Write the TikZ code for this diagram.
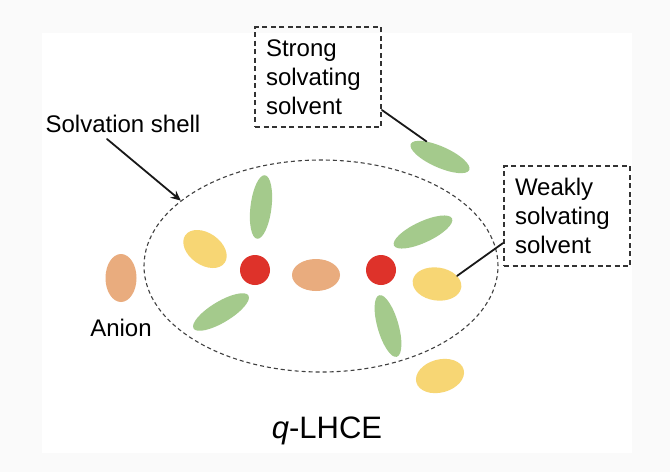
\documentclass[tikz,border=0pt]{standalone}
\usepackage{fontspec}
\setmainfont{Liberation Sans}
\usepackage{xcolor}
\usetikzlibrary{positioning,shapes.geometric,arrows.meta}

\definecolor{solvgreen}{RGB}{164,202,140}
\definecolor{solvyellow}{RGB}{247,214,116}
\definecolor{anionorange}{RGB}{233,172,126}
\definecolor{liionred}{RGB}{222,50,42}
\definecolor{pagegray}{RGB}{250,250,250}

\begin{document}
\begin{tikzpicture}[
    x=1pt, y=-1pt,
    molecule/.style = {
        ellipse,
        inner sep=0pt,
        draw=none
    },
    strongsolv/.style = {molecule, fill=solvgreen,   minimum width=64pt, minimum height=21pt},
    weaksolv/.style   = {molecule, fill=solvyellow,  minimum width=49pt, minimum height=33pt},
    anion/.style      = {molecule, fill=anionorange},
    cation/.style     = {circle, fill=liionred, minimum size=30pt, inner sep=0pt},
    labelbox/.style = {
        rectangle,
        draw=black!80,
        line width=1.8pt,
        dash pattern=on 5pt off 3.5pt,
        minimum width=126pt,
        minimum height=100pt,
        text width=104pt,
        inner xsep=11pt,
        align=left,
        font=\fontsize{24}{29}\selectfont
    },
    plaintext/.style = {inner sep=2pt, font=\fontsize{24}{29}\selectfont},
    pointer/.style = {line width=1.8pt, draw=black!90, line cap=round},
    arrow/.style   = {pointer, -{Stealth[length=10pt,width=9pt]}},
    shellline/.style = {ellipse, draw=black!75, line width=1.1pt, dash pattern=on 4pt off 3pt, inner sep=0pt}
]

% page
\fill[pagegray] (0,0) rectangle (670,472);
\fill[white] (42,33) rectangle (632,453);

% solvation shell
\node[shellline, minimum width=354pt, minimum height=212pt] (shell) at (321,266) {};

% ions
\node[cation] (liL) at (255,270) {};
\node[cation] (liR) at (381,270) {};
\node[anion, minimum width=48pt, minimum height=32pt] (anIn)  at (316,275) {};
\node[anion, minimum width=31pt, minimum height=48pt] (anOut) at (121,278) {};

% strong solvating solvent
\node[strongsolv, rotate=83]  (ssTopL)  at (261,207) {};
\node[strongsolv, rotate=31]  (ssBotL)  at (221,312) {};
\node[strongsolv, rotate=25]  (ssTopR)  at (423,232) {};
\node[strongsolv, rotate=106] (ssBotR)  at (388,326) {};
\node[strongsolv, rotate=-24] (ssOut)   at (440,157) {};

% weakly solvating solvent
\node[weaksolv, minimum width=48pt, minimum height=32pt, rotate=-35] (wsL) at (205,249) {};
\node[weaksolv, rotate=-8] (wsR)   at (437,284) {};
\node[weaksolv, rotate=15] (wsOut) at (440,376) {};

% labels
\node[labelbox] (strongbox) at (318,77)  {Strong\\solvating\\solvent};
\node[labelbox] (weakbox)   at (567,216) {Weakly\\solvating\\solvent};
\node[plaintext] (shelllabel) at (123,124) {Solvation shell};
\node[plaintext] (anionlabel) at (121,328) {Anion};
\node[inner sep=0pt, font=\fontsize{31}{36}\selectfont] (title) at (327,431) {\textit{q}-LHCE};

\draw[arrow] ([xshift=-16pt,yshift=-4pt]shelllabel.south) -- (shell.155);
\draw[pointer] ([yshift=-33pt]strongbox.east) -- (ssOut.155);
\draw[pointer] (wsR.30) -- ([yshift=-27pt]weakbox.west);

\end{tikzpicture}
\end{document}
